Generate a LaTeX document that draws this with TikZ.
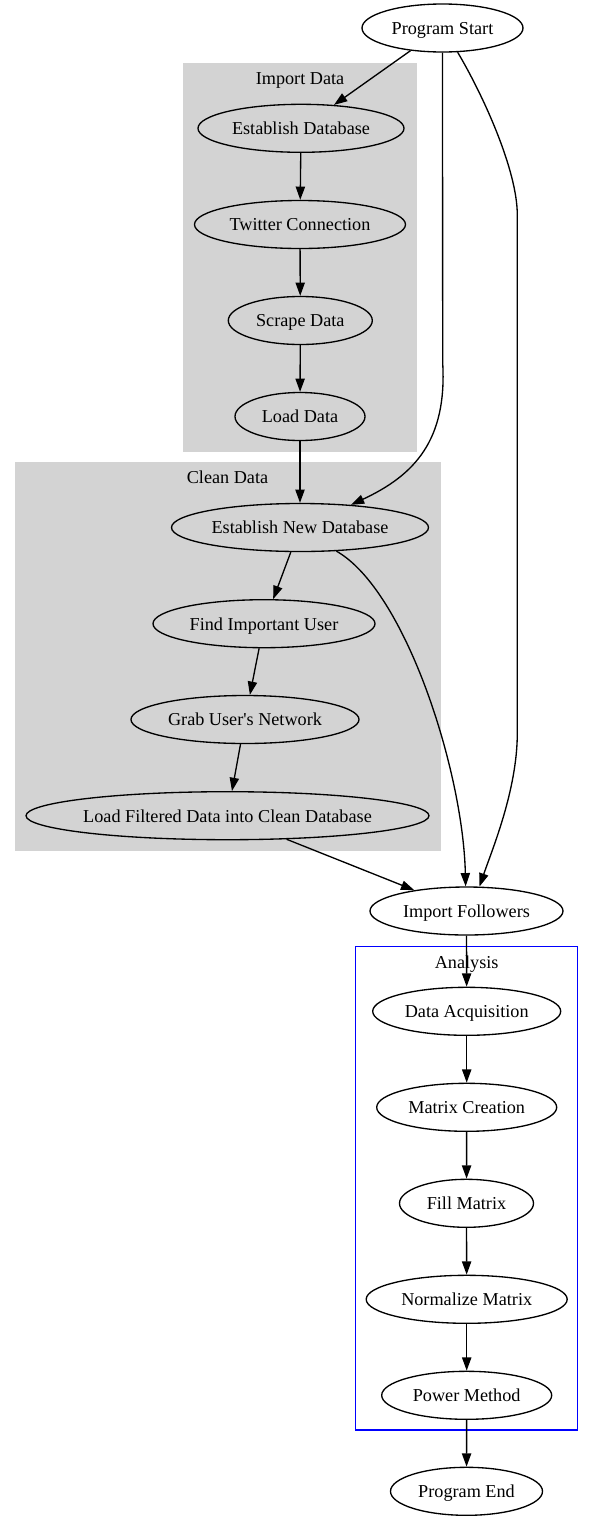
\documentclass[tikz,border=0pt]{standalone}
\usepackage{fontspec}
\setmainfont{Liberation Serif}
\usetikzlibrary{shapes.geometric,arrows.meta}
\definecolor{clustergray}{HTML}{D3D3D3}
\begin{document}
\begin{tikzpicture}[x=1pt,y=-1pt,
  every node/.style={font=\fontsize{18.2}{22}\selectfont,text depth=0pt},
  state/.style={ellipse,draw,line width=1.33pt,inner sep=0pt,minimum height=48pt},
  cluster/.style={fill=clustergray},
  link/.style={line width=1.33pt,-{Triangle[length=13.3pt,width=9.3pt]}}]
\useasboundingbox (0,0) rectangle (593,1521);
\fill[cluster] (183.3,63.3) rectangle (416.7,451.7);
\fill[cluster] (15,462.3) rectangle (440.7,850.5);
\draw[blue,line width=1.33pt] (355.7,946.7) rectangle (577.7,1430);
\node (importlbl) at (300,79) {Import Data};
\node (cleanlbl) at (227.5,477) {Clean Data};
\node (analysislbl) at (466.7,962) {Analysis};
\node[state,minimum width=161pt] (start) at (442.5,28) {Program Start};
\node[state,minimum width=206pt] (estdb) at (301,128.3) {Establish Database};
\node[state,minimum width=211pt] (twit) at (300,224.5) {Twitter Connection};
\node[state,minimum width=144pt] (scrape) at (300.3,320.5) {Scrape Data};
\node[state,minimum width=130pt] (loaddata) at (300,416.5) {Load Data};
\node[state,minimum width=257pt] (newdb) at (300,527.5) {Establish New Database};
\node[state,minimum width=222pt] (findusr) at (264,623.7) {Find Important User};
\node[state,minimum width=228pt] (grab) at (245,719.5) {Grab User\textquotesingle s Network};
\node[state,minimum width=403pt,inner xsep=-2pt] (loadfilt) at (227.5,815.7) {Load Filtered Data into Clean Database};
\node[state,minimum width=193pt] (impfol) at (466.5,911) {Import Followers};
\node[state,minimum width=188pt] (acq) at (466.7,1011.3) {Data Acquisition};
\node[state,minimum width=180pt] (matrix) at (466.7,1107.3) {Matrix Creation};
\node[state,minimum width=134pt] (fillmat) at (466.5,1203.3) {Fill Matrix};
\node[state,minimum width=201pt] (norm) at (466.7,1299.3) {Normalize Matrix};
\node[state,minimum width=170pt] (power) at (466.7,1395.3) {Power Method};
\node[state,minimum width=152pt] (progend) at (466.5,1491.3) {Program End};
\draw[link] (start) -- (estdb);
\draw[link] (start.south) -- (442.7,363) .. controls (447,440) and (415,475) .. (newdb.24);
\draw[link] (start.-58) .. controls (483,95) and (517.3,170) .. (517.3,215) -- (517.3,733) .. controls (517.3,790) and (492,850) .. (impfol.62);
\draw[link] (estdb) -- (twit);
\draw[link] (twit) -- (scrape);
\draw[link] (scrape) -- (loaddata);
\draw[link] (loaddata) -- (newdb);
\draw[link] (newdb) -- (findusr);
\draw[link] (newdb.-33) .. controls (405,590) and (463,770) .. (impfol.92);
\draw[link] (findusr) -- (grab);
\draw[link] (grab) -- (loadfilt);
\draw[link] (loadfilt) -- (impfol);
\draw[link] (impfol) -- (acq);
\draw[link] (acq) -- (matrix);
\draw[link] (matrix) -- (fillmat);
\draw[link] (fillmat) -- (norm);
\draw[link] (norm) -- (power);
\draw[link] (power) -- (progend);
\end{tikzpicture}
\end{document}
